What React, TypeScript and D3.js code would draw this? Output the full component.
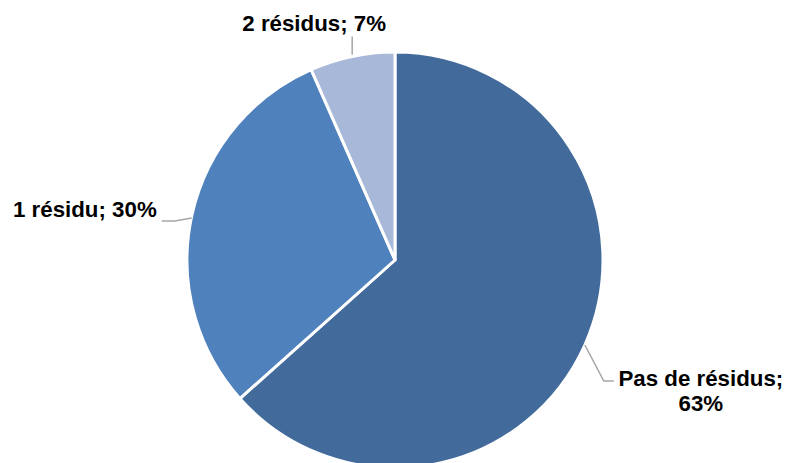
import React from "react";
import * as d3 from "d3";

const categories = ["Pas de résidus", "1 résidu", "2 résidus"];
const values = [63.4, 30.0, 6.6];
const labels = ["63%", "30%", "7%"];
const colors = ["#426B9C", "#4F81BD", "#A8B8D8"];

const W = 788;
const H = 463;
const cx = 395;
const cy = 260;
const R = 208;
const FONT = "Arial, 'Liberation Sans', sans-serif";
const FS = 22.3;

export default function App() {
  const pie = d3.pie<number>().sort(null).startAngle(0).endAngle(2 * Math.PI);
  const arcs = pie(values);
  const arcGen = d3.arc<d3.PieArcDatum<number>>().innerRadius(0).outerRadius(R);

  const pts = arcs.map((a) => {
    const m = (a.startAngle + a.endAngle) / 2;
    return [cx + R * Math.sin(m), cy - R * Math.cos(m)];
  });

  const [p0, p1, p2] = pts;

  return (
    <svg width={W} height={H} style={{ position: "absolute", left: 0, top: 0 }}>
      <rect width={W} height={H} fill="#fff" />
      <g transform={`translate(${cx},${cy})`}>
        {arcs.map((a, i) => (
          <path key={i} d={arcGen(a) || ""} fill={colors[i]} stroke="#fff" strokeWidth={3} strokeLinejoin="round" />
        ))}
      </g>
      {/* leader lines */}
      <polyline
        points={`${p0[0]},${p0[1]} ${p0[0] + 19},${p0[1] + 36} ${p0[0] + 29},${p0[1] + 36}`}
        fill="none" stroke="#A6A6A6" strokeWidth={1.5}
      />
      <polyline
        points={`${p1[0]},${p1[1] + 2} ${p1[0] - 17},${p1[1] + 5} ${p1[0] - 30},${p1[1] + 5}`}
        fill="none" stroke="#A6A6A6" strokeWidth={1.5}
      />
      <polyline
        points={`${p2[0]},${p2[1] - 2} ${p2[0]},${p2[1] - 20}`}
        fill="none" stroke="#A6A6A6" strokeWidth={1.5}
      />
      {/* labels */}
      <g fontFamily={FONT} fontWeight="bold" fontSize={FS} fill="#000">
        <text x={p0[0] + 116} y={p0[1] + 41} textAnchor="middle">{categories[0] + ";"}</text>
        <text x={p0[0] + 116} y={p0[1] + 66} textAnchor="middle">{labels[0]}</text>
        <text x={p1[0] - 35} y={p1[1] + 1} textAnchor="end">{`${categories[1]}; ${labels[1]}`}</text>
        <text x={p2[0] - 38} y={p2[1] - 25} textAnchor="middle">{`${categories[2]}; ${labels[2]}`}</text>
      </g>
    </svg>
  );
}
